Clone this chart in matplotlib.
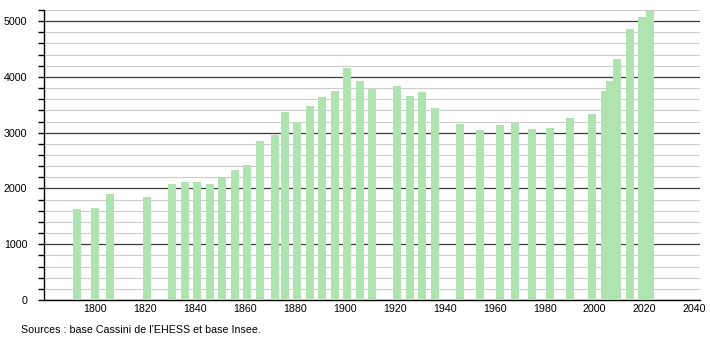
import matplotlib
matplotlib.use("Agg")
import matplotlib.pyplot as plt
from matplotlib.ticker import MultipleLocator

# census years and population
years = [1793, 1800, 1806, 1821, 1831, 1836, 1841, 1846, 1851, 1856,
         1861, 1866, 1872, 1876, 1881, 1886, 1891, 1896, 1901, 1906,
         1911, 1921, 1926, 1931, 1936, 1946, 1954, 1962, 1968, 1975,
         1982, 1990, 1999, 2004, 2006, 2009, 2014, 2019, 2022]
population = [1640, 1658, 1897, 1856, 2072, 2108, 2108, 2072, 2186, 2324,
              2414, 2847, 2955, 3369, 3195, 3471, 3640, 3748, 4162, 3928,
              3790, 3838, 3658, 3724, 3441, 3147, 3045, 3135, 3171, 3063,
              3081, 3261, 3333, 3753, 3928, 4324, 4865, 5081, 5190]
xticks = [1800, 1820, 1840, 1860, 1880, 1900, 1920, 1940, 1960, 1980, 2000, 2020, 2040]
source = "Sources : base Cassini de l'EHESS et base Insee."

plt.rcParams['font.family'] = ['Liberation Sans', 'DejaVu Sans']

fig = plt.figure(figsize=(7.1, 3.4), dpi=100)
ax = fig.add_axes([0.062, 0.1176, 0.924, 0.853])

ax.bar(years, population, width=3.2, color='#afe3af', zorder=3)

ax.set_xlim(1779.7, 2042.2)
ax.set_ylim(0, 5200)
ax.set_xticks(xticks)
ax.yaxis.set_major_locator(MultipleLocator(1000))
ax.yaxis.set_minor_locator(MultipleLocator(200))

# grid: dark lines every 1000, light every 200
ax.grid(axis='y', which='minor', color='#cccccc', linewidth=0.8, zorder=1)
ax.grid(axis='y', which='major', color='#3a3a3a', linewidth=0.9, zorder=2)

for s in ['top', 'right']:
    ax.spines[s].set_visible(False)
ax.spines['left'].set_linewidth(1.0)
ax.spines['bottom'].set_linewidth(1.0)

ax.tick_params(axis='y', which='both', direction='out', length=4, width=1, labelsize=7.7, pad=8)
ax.tick_params(axis='x', length=0, labelsize=7.7, pad=3)

fig.text(0.029, 0.016, source, fontsize=7.7, ha='left', va='bottom')

fig.savefig('out.png', dpi=100)
